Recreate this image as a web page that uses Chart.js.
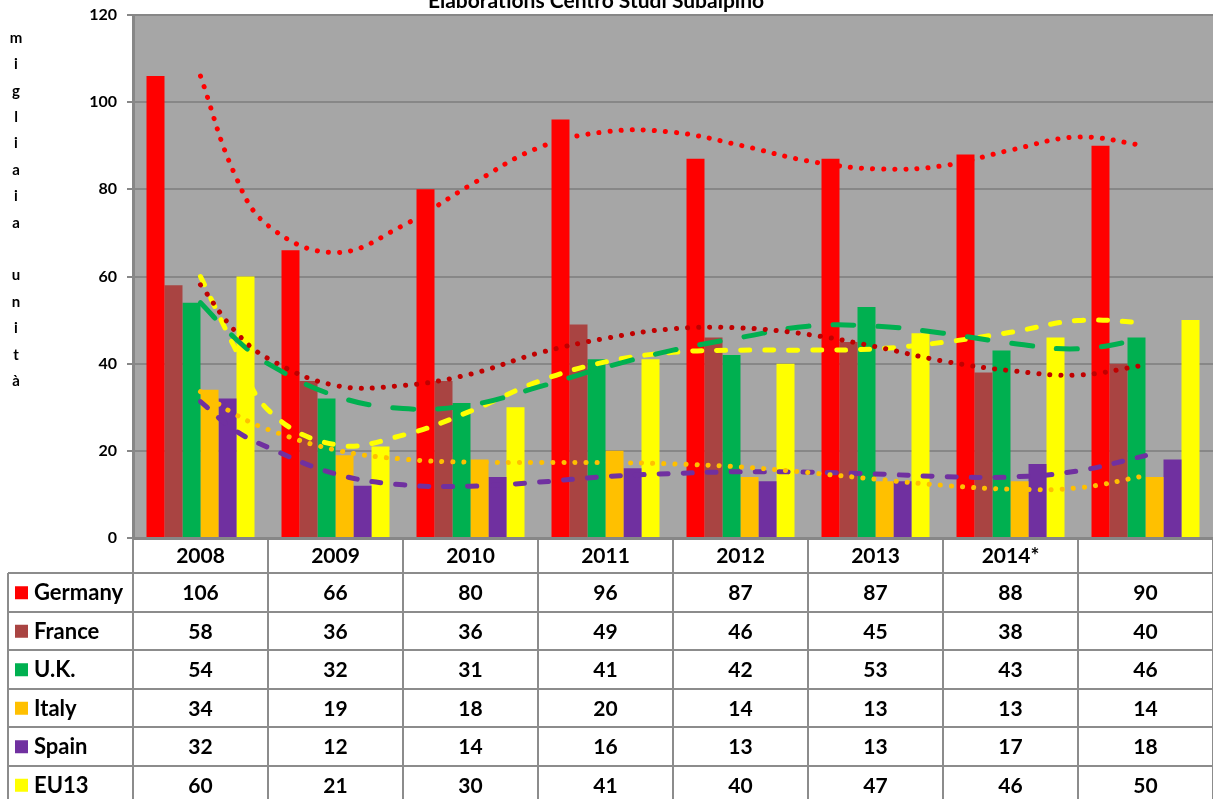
<!DOCTYPE html>
<html>
<head>
<meta charset="utf-8">
<script src="https://cdn.jsdelivr.net/npm/chart.js@4.4.1/dist/chart.umd.min.js"></script>
<style>
  html, body { margin: 0; padding: 0; background: #ffffff; }
  #wrap { width: 1213px; height: 799px; position: relative; }
  #wrap canvas { position: absolute; left: 0; top: 0; }
</style>
</head>
<body>
<div id="wrap">
  <canvas id="chart"></canvas>
  <canvas id="trends"></canvas>
</div>
<script>
const years = ['2008', '2009', '2010', '2011', '2012', '2013', '2014*', ''];
const germany = [106, 66, 80, 96, 87, 87, 88, 90];
const france = [58, 36, 36, 49, 46, 45, 38, 40];
const uk = [54, 32, 31, 41, 42, 53, 43, 46];
const italy = [34, 19, 18, 20, 14, 13, 13, 14];
const spain = [32, 12, 14, 16, 13, 13, 17, 18];
const eu13 = [60, 21, 30, 41, 40, 47, 46, 50];

// trend lines at category positions (0 = 2008)
const trendX = [0, 0.25, 0.5, 1, 1.5, 2, 2.5, 3, 3.5, 4, 4.5, 5, 5.5, 6, 6.5, 7];
const germanyTrend = [106.0, 83.7, 71.7, 65.5, 71.7, 81.0, 89.5, 93.2, 93.1, 90.1, 86.5, 84.7, 85.4, 89.0, 92.0, 90.0];
const franceTrend = [58.1, 47.7, 41.2, 35.0, 35.0, 37.6, 42.4, 45.8, 48.0, 48.2, 46.7, 43.9, 40.6, 38.4, 37.4, 39.7];
const ukTrend = [54.0, 46.0, 40.0, 32.6, 29.7, 30.5, 34.6, 39.2, 43.1, 46.0, 48.6, 48.6, 47.0, 44.7, 43.4, 45.7];
const italyTrend = [33.6, 28.5, 24.9, 20.2, 18.1, 17.4, 17.3, 17.3, 17.0, 16.3, 15.0, 13.5, 12.1, 11.2, 11.5, 14.3];
const spainTrend = [31.3, 24.8, 20.8, 14.7, 12.2, 11.9, 12.8, 14.1, 14.8, 15.2, 15.1, 14.7, 14.1, 14.0, 15.4, 18.9];
const eu13Trend = [60.0, 43.9, 29.4, 21.4, 23.6, 29.1, 35.9, 40.4, 42.6, 43.1, 43.1, 43.4, 44.9, 47.2, 49.9, 49.4];

const yTicks = [0, 20, 40, 60, 80, 100, 120];

const series = [
    { name: 'Germany', color: '#FF0000', values: germany, trend: germanyTrend, trendColor: '#FF0000', style: 'dot' },
    { name: 'France', color: '#A94442', values: france, trend: franceTrend, trendColor: '#C00000', style: 'dot' },
    { name: 'U.K.', color: '#00B050', values: uk, trend: ukTrend, trendColor: '#00B050', style: 'longdash' },
    { name: 'Italy', color: '#FFC000', values: italy, trend: italyTrend, trendColor: '#FFC000', style: 'dot' },
    { name: 'Spain', color: '#7030A0', values: spain, trend: spainTrend, trendColor: '#7030A0', style: 'dash' },
    { name: 'EU13', color: '#FFFF00', values: eu13, trend: eu13Trend, trendColor: '#FFFF00', style: 'dash' },
];

const dashStyles = {
    dot: { width: 5, dash: [0.1, 11] },
    dash: { width: 5, dash: [9, 15] },
    longdash: { width: 5, dash: [21, 24] },
};

const FONT = 'Lato, "Open Sans", sans-serif';
const GRID = '#878787';
const PADDING = { top: 15, bottom: 261, right: 0, left: 0 };

const plotBackground = {
    id: 'plotBackground',
    beforeDraw(chart) {
        const { ctx, chartArea } = chart;
        ctx.save();
        ctx.fillStyle = '#A6A6A6';
        ctx.fillRect(chartArea.left, chartArea.top, chartArea.right - chartArea.left, chartArea.bottom - chartArea.top);
        ctx.restore();
    },
};

const titles = {
    id: 'titles',
    afterDraw(chart) {
        const { ctx } = chart;
        ctx.save();
        ctx.fillStyle = '#000';
        ctx.font = 'bold 21px ' + FONT;
        ctx.textAlign = 'center';
        ctx.textBaseline = 'alphabetic';
        ctx.fillText('Elaborations Centro Studi Subalpino', 596, 8);

        // vertical y-axis title, one letter per line
        ctx.font = 'bold 15px ' + FONT;
        ctx.textBaseline = 'middle';
        const letters = 'migliaia unità'.split('');
        letters.forEach((ch, i) => {
            ctx.fillText(ch, 16, 38 + i * 26.4);
        });
        ctx.restore();
    },
};

const dataTable = {
    id: 'dataTable',
    afterDraw(chart) {
        const { ctx, chartArea, scales } = chart;
        const x = scales.x;
        const slot = (chartArea.right - chartArea.left) / years.length;
        const top = chartArea.bottom;
        const headerBottom = 573;
        const rowH = 38.5;
        const tableLeft = 8;
        const bottom = headerBottom + rowH * series.length;

        ctx.save();
        ctx.strokeStyle = '#8C8C8C';
        ctx.lineWidth = 2;
        ctx.beginPath();
        // vertical column lines
        for (let i = 0; i <= years.length; i++) {
            const px = Math.round(x.getPixelForValue(0) - slot / 2 + i * slot);
            ctx.moveTo(px, top);
            ctx.lineTo(px, bottom);
        }
        ctx.moveTo(tableLeft, headerBottom);
        ctx.lineTo(tableLeft, bottom);
        // horizontal row lines
        for (let r = 0; r <= series.length; r++) {
            const py = Math.round(headerBottom + r * rowH);
            ctx.moveTo(tableLeft, py);
            ctx.lineTo(chartArea.right, py);
        }
        ctx.stroke();

        // axis line along the bottom of the plot
        ctx.strokeStyle = GRID;
        ctx.lineWidth = 3;
        ctx.beginPath();
        ctx.moveTo(chartArea.left, top + 0.5);
        ctx.lineTo(chartArea.right, top + 0.5);
        ctx.stroke();

        ctx.fillStyle = '#000';
        ctx.font = 'bold 21px ' + FONT;
        ctx.textBaseline = 'middle';
        ctx.textAlign = 'center';
        years.forEach((yr, i) => {
            ctx.fillText(yr, x.getPixelForValue(i), (top + headerBottom) / 2 + 1);
        });

        series.forEach((s, r) => {
            const cy = headerBottom + r * rowH + rowH / 2 + 1;
            ctx.fillStyle = s.color;
            ctx.fillRect(15, cy - 7, 13, 13);
            ctx.fillStyle = '#000';
            ctx.font = 'bold 22px ' + FONT;
            ctx.textAlign = 'left';
            ctx.fillText(s.name, 34, cy);
            ctx.font = 'bold 21px ' + FONT;
            ctx.textAlign = 'center';
            s.values.forEach((v, i) => {
                ctx.fillText(String(v), x.getPixelForValue(i), cy);
            });
        });
        ctx.restore();
    },
};

function yScale(showTicks) {
    return {
        min: 0,
        max: 120,
        afterFit(scale) {
            scale.width = 133;
            scale.paddingTop = 0;
            scale.paddingBottom = 0;
        },
        afterBuildTicks(scale) { scale.ticks = yTicks.map(v => ({ value: v })); },
        ticks: {
            display: showTicks,
            color: '#000',
            font: { family: FONT, size: 16, weight: 'bold' },
            padding: 10,
        },
        grid: {
            display: showTicks,
            color: GRID,
            lineWidth: 2,
            tickLength: 6,
        },
        border: { display: showTicks, color: GRID, width: 3 },
    };
}

// bars + table
new Chart(document.getElementById('chart').getContext('2d'), {
    type: 'bar',
    data: {
        labels: years,
        datasets: series.map(s => ({
            label: s.name,
            data: s.values,
            backgroundColor: s.color,
            borderWidth: 0,
            categoryPercentage: 0.8,
            barPercentage: 1.0,
        })),
    },
    options: {
        responsive: true,
        maintainAspectRatio: false,
        animation: false,
        layout: { padding: PADDING },
        plugins: {
            legend: { display: false },
            tooltip: { enabled: false },
        },
        scales: {
            x: { type: 'category', display: false, offset: true },
            y: yScale(true),
        },
    },
    plugins: [plotBackground, titles, dataTable],
});

// trend lines on an overlaid canvas with the same plot area
new Chart(document.getElementById('trends').getContext('2d'), {
    type: 'line',
    data: {
        datasets: series.map(s => ({
            label: s.name + ' trend',
            data: trendX.map((t, i) => ({ x: t, y: s.trend[i] })),
            borderColor: s.trendColor,
            borderWidth: dashStyles[s.style].width,
            borderDash: dashStyles[s.style].dash,
            borderCapStyle: 'round',
            pointRadius: 0,
            tension: 0.4,
            fill: false,
        })),
    },
    options: {
        responsive: true,
        maintainAspectRatio: false,
        animation: false,
        layout: { padding: PADDING },
        plugins: {
            legend: { display: false },
            tooltip: { enabled: false },
        },
        scales: {
            x: { type: 'linear', display: false, offset: false, min: -0.5, max: 7.5 },
            y: yScale(false),
        },
    },
});
</script>
</body>
</html>
